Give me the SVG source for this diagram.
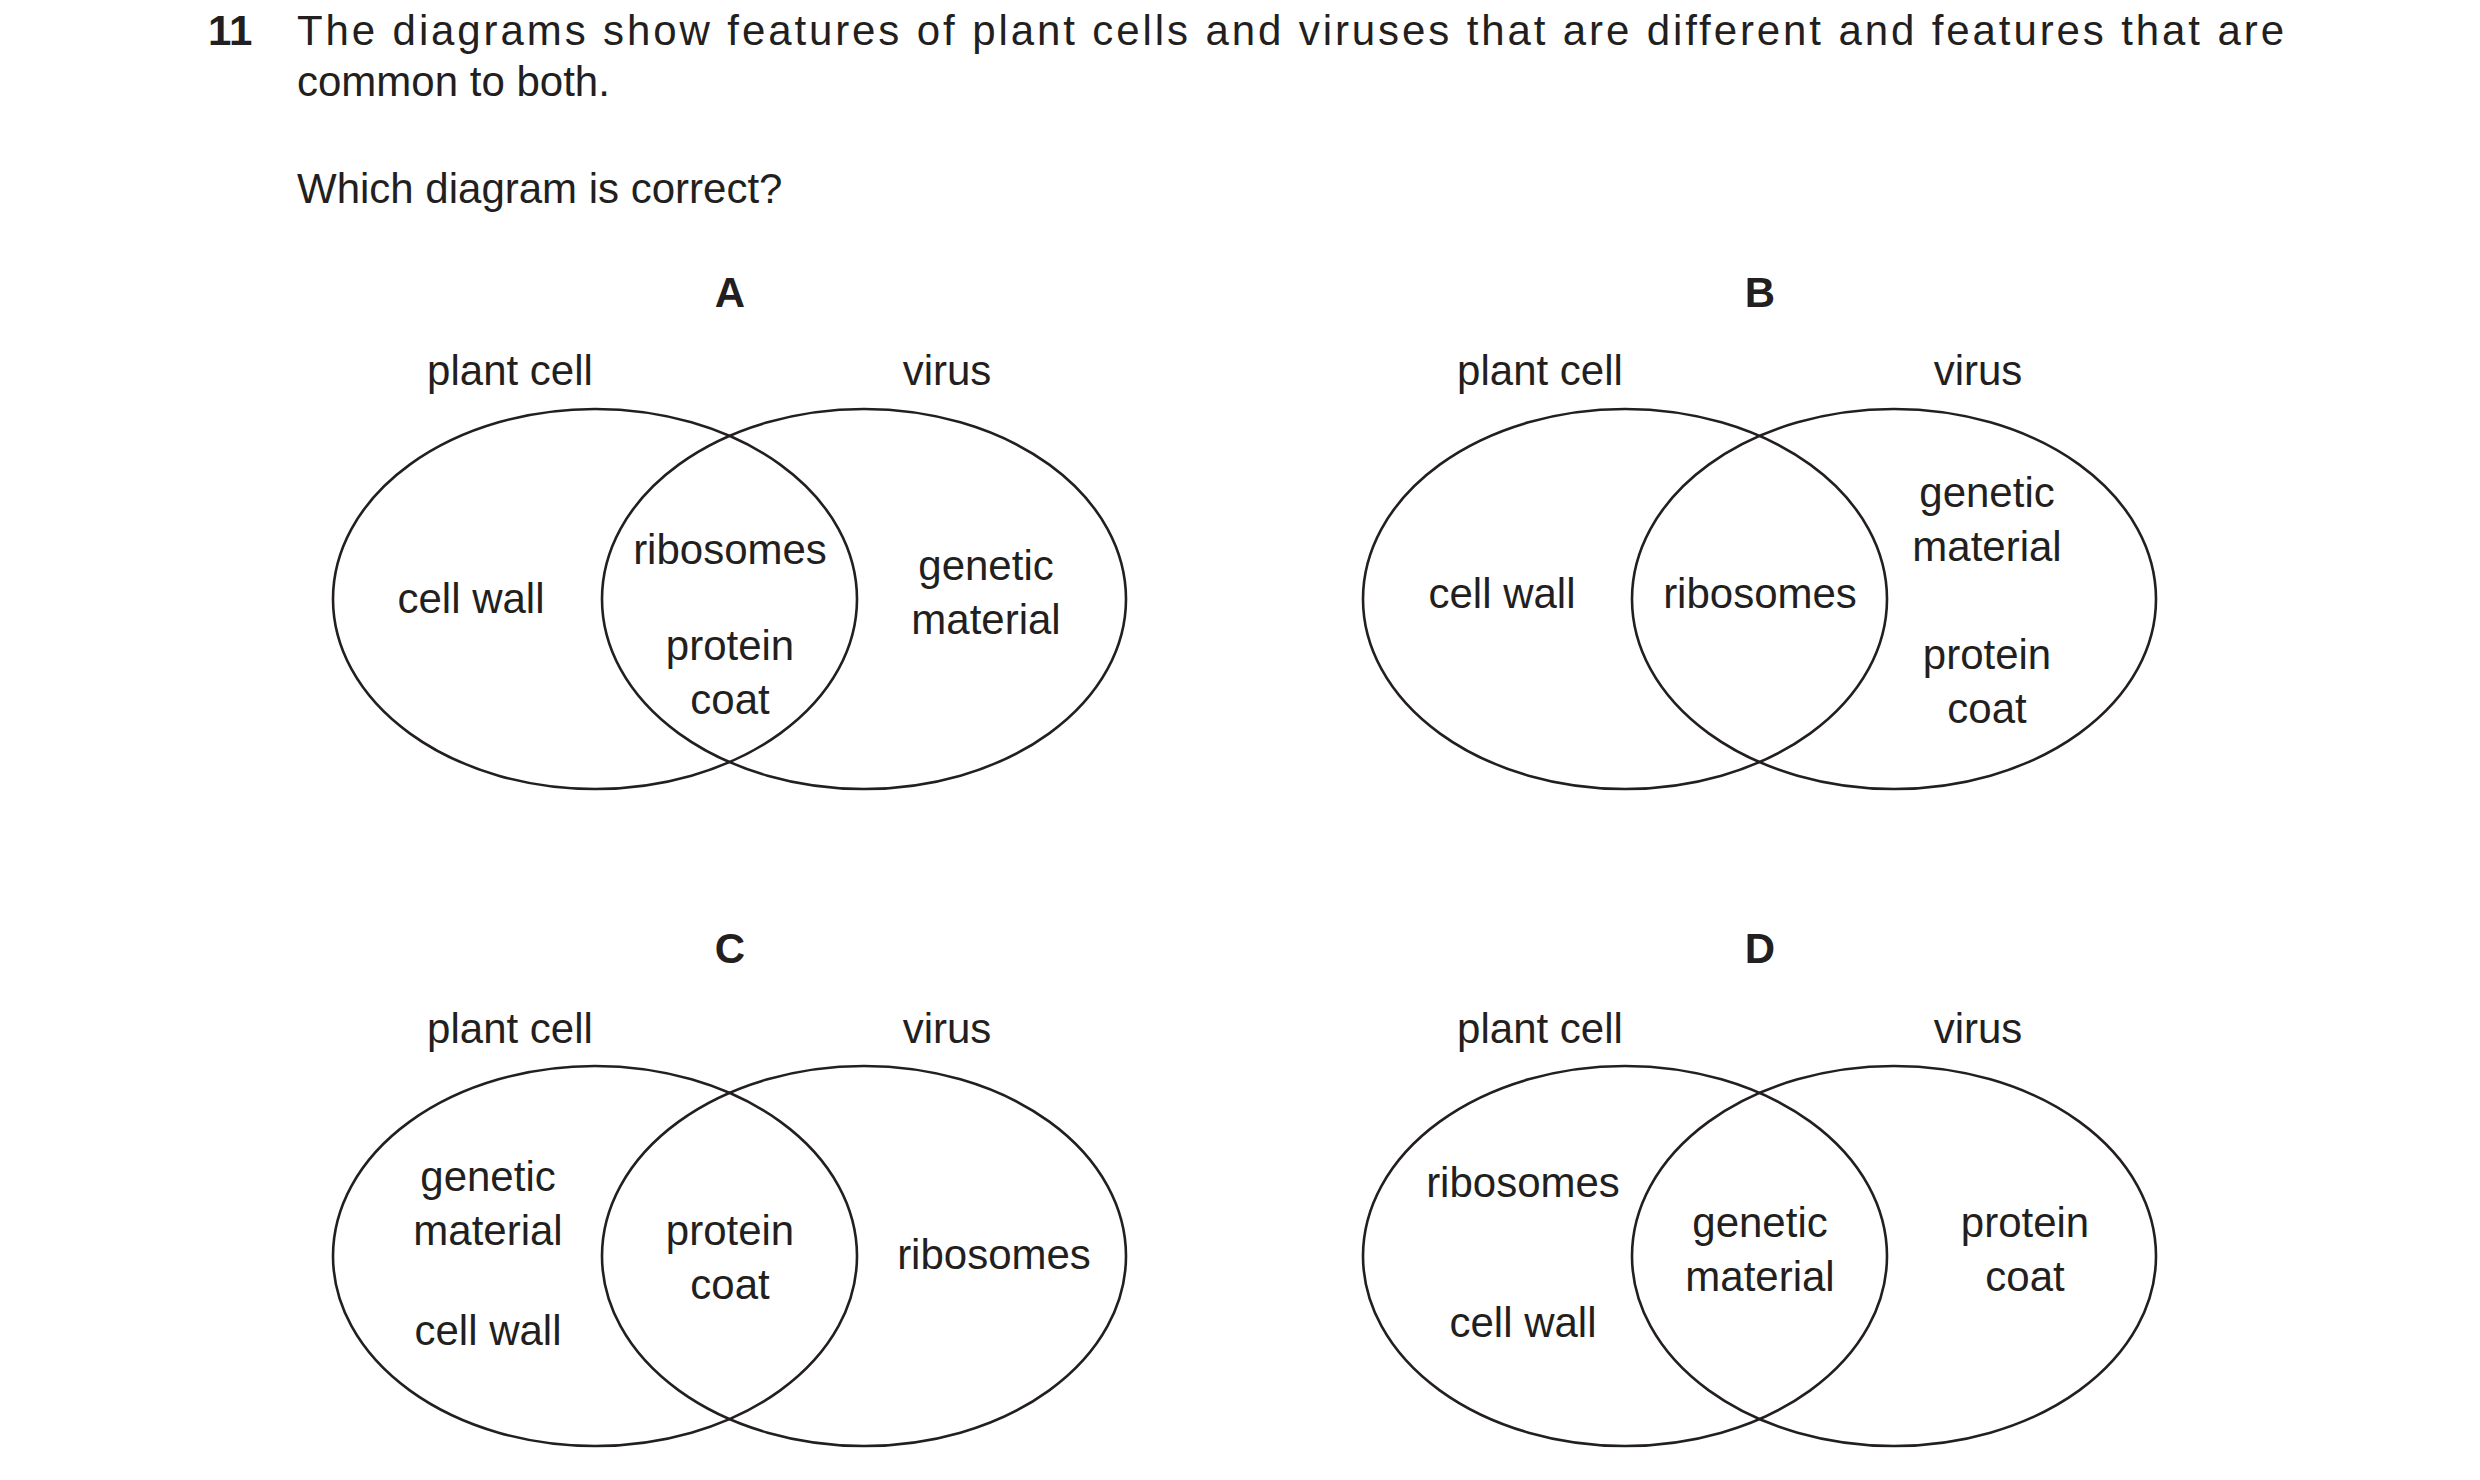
<svg xmlns="http://www.w3.org/2000/svg" width="2480" height="1480" viewBox="0 0 2480 1480">
<style>
text{font-family:"Liberation Sans",Arial,sans-serif;font-size:42px;fill:#231f20}
.c{text-anchor:middle}
.b{font-weight:bold}
ellipse{fill:none;stroke:#231f20;stroke-width:2.6}
</style>
<rect width="2480" height="1480" fill="#fff"/>
<text x="208" y="45" class="b">11</text>
<text x="297" y="45" textLength="1987" lengthAdjust="spacing">The diagrams show features of plant cells and viruses that are different and features that are</text>
<text x="297" y="96">common to both.</text>
<text x="297" y="203">Which diagram is correct?</text>
<g id="A">
<text x="730" y="307" class="c b">A</text>
<text x="510" y="385" class="c">plant cell</text><text x="947" y="385" class="c">virus</text>
<ellipse cx="595" cy="599" rx="262" ry="190"/><ellipse cx="864" cy="599" rx="262" ry="190"/>
<text x="471" y="613" class="c">cell wall</text>
<text x="730" y="564" class="c">ribosomes</text><text x="730" y="660" class="c">protein</text><text x="730" y="714" class="c">coat</text>
<text x="986" y="580" class="c">genetic</text><text x="986" y="634" class="c">material</text>
</g>
<g id="B">
<text x="1760" y="307" class="c b">B</text>
<text x="1540" y="385" class="c">plant cell</text><text x="1978" y="385" class="c">virus</text>
<ellipse cx="1625" cy="599" rx="262" ry="190"/><ellipse cx="1894" cy="599" rx="262" ry="190"/>
<text x="1502" y="608" class="c">cell wall</text>
<text x="1760" y="608" class="c">ribosomes</text>
<text x="1987" y="507" class="c">genetic</text><text x="1987" y="561" class="c">material</text>
<text x="1987" y="669" class="c">protein</text><text x="1987" y="723" class="c">coat</text>
</g>
<g id="C">
<text x="730" y="963" class="c b">C</text>
<text x="510" y="1043" class="c">plant cell</text><text x="947" y="1043" class="c">virus</text>
<ellipse cx="595" cy="1256" rx="262" ry="190"/><ellipse cx="864" cy="1256" rx="262" ry="190"/>
<text x="488" y="1191" class="c">genetic</text><text x="488" y="1245" class="c">material</text>
<text x="488" y="1345" class="c">cell wall</text>
<text x="730" y="1245" class="c">protein</text><text x="730" y="1299" class="c">coat</text>
<text x="994" y="1269" class="c">ribosomes</text>
</g>
<g id="D">
<text x="1760" y="963" class="c b">D</text>
<text x="1540" y="1043" class="c">plant cell</text><text x="1978" y="1043" class="c">virus</text>
<ellipse cx="1625" cy="1256" rx="262" ry="190"/><ellipse cx="1894" cy="1256" rx="262" ry="190"/>
<text x="1523" y="1197" class="c">ribosomes</text><text x="1523" y="1337" class="c">cell wall</text>
<text x="1760" y="1237" class="c">genetic</text><text x="1760" y="1291" class="c">material</text>
<text x="2025" y="1237" class="c">protein</text><text x="2025" y="1291" class="c">coat</text>
</g>
<g id="connectors"/>
</svg>
